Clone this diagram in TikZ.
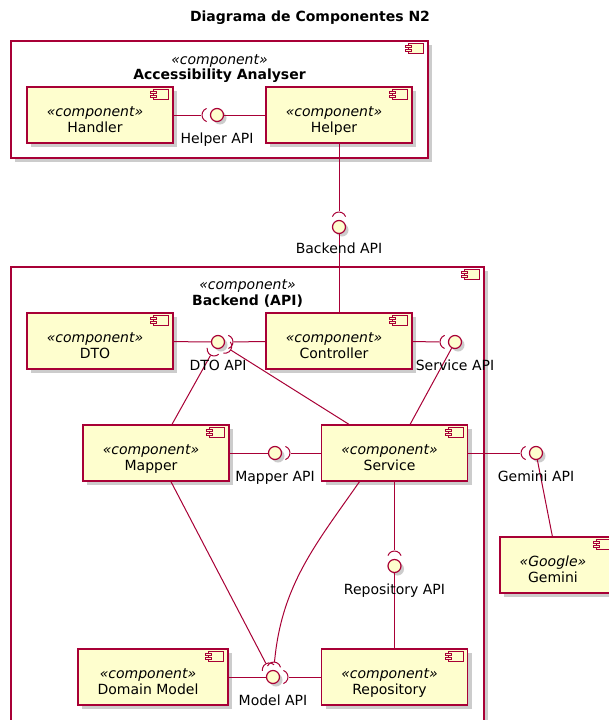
\documentclass[tikz,border=0pt]{standalone}
\usepackage{fontspec}
\setmainfont{DejaVu Sans}
\usetikzlibrary{calc,shadows}

\definecolor{umlred}{HTML}{A80036}
\definecolor{umlfill}{HTML}{FEFECE}
\newcommand{\dfont}{\fontsize{14}{16}\selectfont}
% stereotype over name, pushed a little left and down (room for the icon)
\newcommand{\comptxt}[2]{\begin{tabular}{@{}c@{\hspace{10pt}}}\rule{0pt}{24pt}\textit{«#1»}\\#2\end{tabular}}
% socket half circle in front of a lollipop, turned towards #2
\newcommand{\sock}[2]{%
	\draw[wire] let \p1=($(#2)-(#1)$), \n1={atan2(\y1,\x1)} in
		($(#1)+(\n1:8pt)+(\n1+70:7pt)$) arc[start angle=\n1+70, end angle=\n1-70, radius=7pt];}

\begin{document}
\begin{tikzpicture}[x=1pt, y=-1pt, every node/.style={font=\dfont},
	wire/.style={umlred, line width=1pt},
	shad/.style={drop shadow={shadow xshift=4pt, shadow yshift=-4pt, fill=black!20, opacity=1}},
	comp/.style={draw=umlred, fill=umlfill, line width=1.3pt, minimum width=146pt, minimum height=56pt, inner sep=0pt, shad},
	pack/.style={draw=umlred, fill=white, line width=1.25pt, inner sep=0pt, shad},
	ball/.style={circle, draw=umlred, fill=umlfill, line width=1.2pt, minimum size=13pt, inner sep=0pt,
		drop shadow={shadow xshift=3pt, shadow yshift=-3pt, fill=black!20, opacity=1}},
	lbl/.style={anchor=base, yshift=-28pt, inner sep=0pt},
	compicon/.pic={
		\draw[umlred, fill=umlfill, line width=0.8pt] (-20,3) rectangle (-5,13);
		\draw[umlred, fill=umlfill, line width=0.8pt] (-23,5) rectangle (-17,7.5) (-23,9) rectangle (-17,11.5);
	}]
	\useasboundingbox (0,0) rectangle (609,720);
	\clip (0,0) rectangle (609,720);

	\node[font=\dfont\bfseries, anchor=base] (title) at (310,21.5) {Diagrama de Componentes N2};

	% outer components
	\node[pack, minimum width=417pt, minimum height=117pt] (aa) at (219.5,99.5) {};
	\node[font=\dfont\itshape, anchor=base] (aast) at (219.5,64) {«component»};
	\node[font=\dfont\bfseries, anchor=base] (aaname) at (219.5,79.5) {Accessibility Analyser};
	\node[pack, minimum width=473pt, minimum height=500pt] (backend) at (247.5,517) {};
	\node[font=\dfont\itshape, anchor=base] (backendst) at (247.5,289.5) {«component»};
	\node[font=\dfont\bfseries, anchor=base] (backendname) at (247.5,305) {Backend (API)};

	% components
	\node[comp] (handler) at (100,115) {\comptxt{component}{Handler}};
	\node[comp] (helper) at (339,115) {\comptxt{component}{Helper}};
	\node[comp] (dto) at (100,341) {\comptxt{component}{DTO}};
	\node[comp] (controller) at (339,341) {\comptxt{component}{Controller}};
	\node[comp] (mapper) at (156,453) {\comptxt{component}{Mapper}};
	\node[comp] (service) at (394.5,453) {\comptxt{component}{Service}};
	\node[comp, minimum width=150pt] (domainmodel) at (153,677) {\comptxt{component}{Domain Model}};
	\node[comp] (repository) at (394.5,677) {\comptxt{component}{Repository}};
	\node[comp, minimum width=116pt] (gemini) at (558,565) {\comptxt{Google}{Gemini}};
	\foreach \c in {aa,backend,handler,helper,dto,controller,mapper,service,domainmodel,repository,gemini}
		\pic at (\c.north east) {compicon};

	% interfaces
	\node[ball] (helperapi) at (217,115) {};
	\node[ball] (backendapi) at (339,227) {};
	\node[ball] (dtoapi) at (218,342) {};
	\node[ball] (serviceapi) at (455,342) {};
	\node[ball] (mapperapi) at (275,453) {};
	\node[ball] (geminiapi) at (536,453) {};
	\node[ball] (repoapi) at (394.5,566) {};
	\node[ball] (modelapi) at (273,677) {};
	\coordinate (modeltop) at ([xshift=2pt,yshift=20pt]modelapi);

	% provided
	\draw[wire] (helperapi) -- (helper);
	\draw[wire] (backendapi) -- (controller);
	\draw[wire] (dto) -- (dtoapi);
	\draw[wire] (serviceapi) -- (service);
	\draw[wire] (mapper) -- (mapperapi);
	\draw[wire] (geminiapi) -- (gemini);
	\draw[wire] (repository) -- (repoapi);
	\draw[wire] (domainmodel) -- (modelapi);

	% required
	\draw[wire, shorten >=8.5pt] (handler) -- (helperapi);
	\draw[wire, shorten >=8.5pt] (helper) -- (backendapi);
	\draw[wire, shorten >=8.5pt] (controller) -- (dtoapi);
	\draw[wire, shorten <=8.5pt] (dtoapi) -- (mapper);
	\draw[wire, shorten <=8.5pt] (dtoapi) -- (service);
	\draw[wire, shorten >=8.5pt] (controller) -- (serviceapi);
	\draw[wire, shorten >=8.5pt] (service) -- (mapperapi);
	\draw[wire, shorten >=8.5pt] (service) -- (geminiapi);
	\draw[wire, shorten >=8.5pt] (service) -- (repoapi);
	\draw[wire, shorten >=8.5pt] (repository) -- (modelapi);
	\draw[wire, shorten >=8.5pt] (mapper) -- (modelapi);
	\draw[wire] ([xshift=-35pt]service.south) .. controls +(-44,63) and +(7,-77) .. ($(modelapi)!15pt!(modeltop)$);

	\sock{helperapi}{handler}
	\sock{backendapi}{helper}
	\sock{dtoapi}{controller}
	\sock{dtoapi}{mapper}
	\sock{dtoapi}{service}
	\sock{serviceapi}{controller}
	\sock{mapperapi}{service}
	\sock{geminiapi}{service}
	\sock{repoapi}{service}
	\sock{modelapi}{repository}
	\sock{modelapi}{mapper}
	\sock{modelapi}{modeltop}

	\node[lbl] (helperapilbl) at (helperapi) {Helper API};
	\node[lbl, yshift=2pt] (backendapilbl) at (backendapi) {Backend API};
	\node[lbl] (dtoapilbl) at (dtoapi) {DTO API};
	\node[lbl] (serviceapilbl) at (serviceapi) {Service API};
	\node[lbl] (mapperapilbl) at (mapperapi) {Mapper API};
	\node[lbl] (geminiapilbl) at (geminiapi) {Gemini API};
	\node[lbl] (repoapilbl) at (repoapi) {Repository API};
	\node[lbl] (modelapilbl) at (modelapi) {Model API};
\end{tikzpicture}
\end{document}
